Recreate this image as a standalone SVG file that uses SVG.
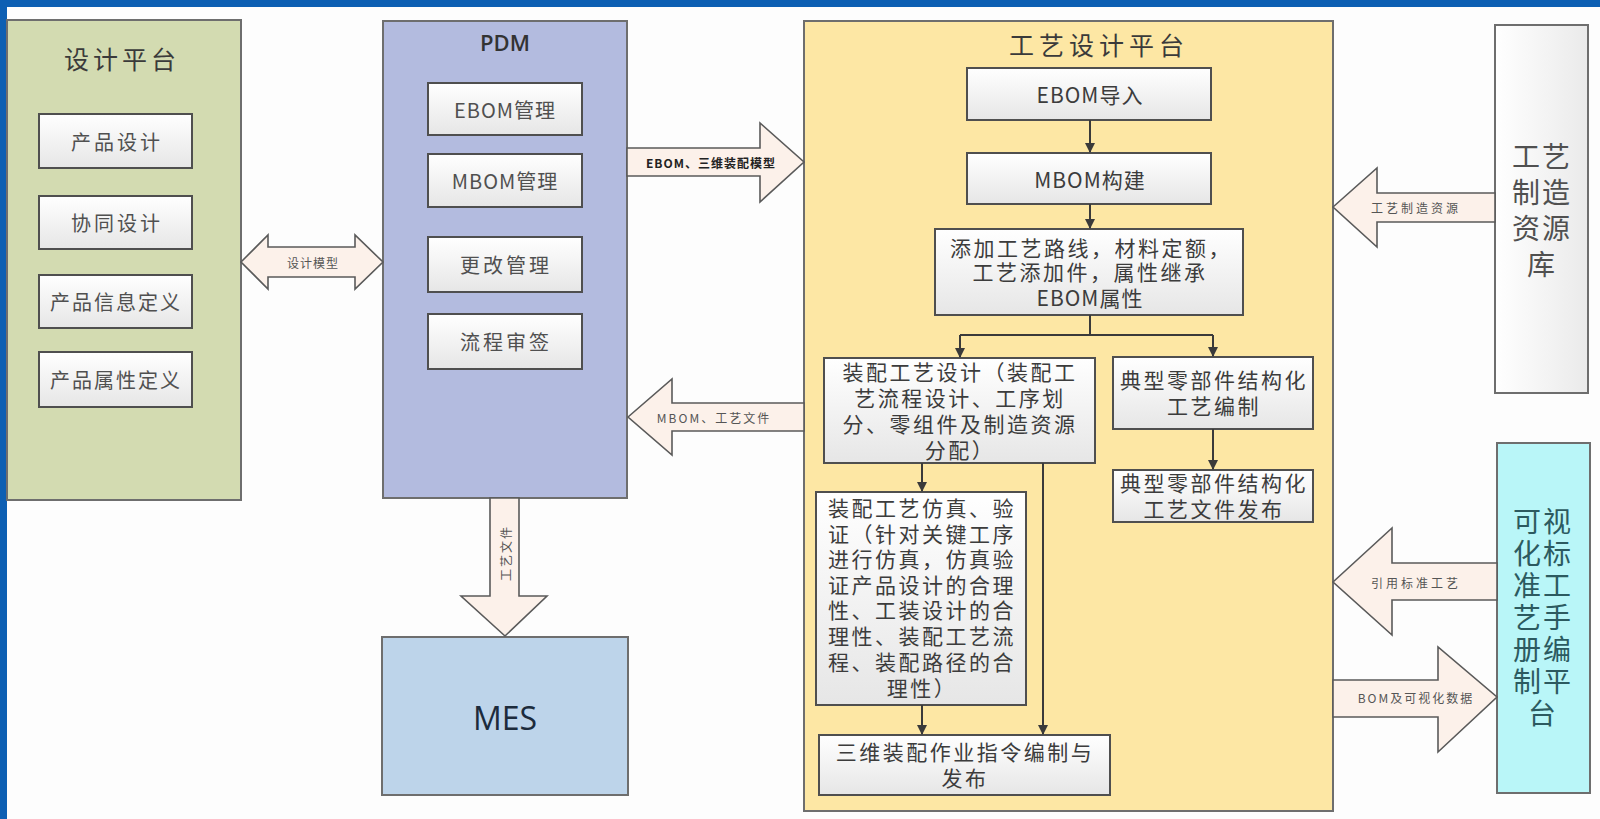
<svg xmlns="http://www.w3.org/2000/svg" width="1600" height="819" viewBox="0 0 1600 819">
<defs>
<linearGradient id="subg" x1="0" y1="0" x2="0" y2="1"><stop offset="0" stop-color="#ffffff"/><stop offset="1" stop-color="#e6e6e6"/></linearGradient>
<linearGradient id="libg" x1="0" y1="0" x2="1" y2="0"><stop offset="0" stop-color="#ffffff"/><stop offset="1" stop-color="#eaeaea"/></linearGradient>
<marker id="ah" markerWidth="10" markerHeight="10" refX="9" refY="5" orient="auto" markerUnits="userSpaceOnUse"><path d="M0,0 L10,5 L0,10 Z" fill="#3a3a3a"/></marker>
<style>
text{font-family:"Noto Sans CJK SC","Noto Sans",sans-serif;dominant-baseline:central;text-anchor:middle}
.big{stroke:#6e6e6e;stroke-width:2}
.sub{fill:url(#subg);stroke:#4f4f4f;stroke-width:2}
.fat{fill:#fcf1ea;stroke:#5a5a5a;stroke-width:1.6;stroke-linejoin:miter}
.t20{font-size:20px;fill:#505050;letter-spacing:3px}
.t22{font-size:21px;fill:#3c3c3c;letter-spacing:2.5px}
.vt{font-size:28px;letter-spacing:2px}
.lbl{font-size:12px;fill:#555;letter-spacing:3px}
.con{stroke:#3a3a3a;stroke-width:2;fill:none}
</style>
</defs>
<rect x="0" y="0" width="1600" height="819" fill="#fdfdfd"/>
<rect x="0" y="0" width="1600" height="7" fill="#0d5fb3"/>
<rect x="0" y="0" width="7" height="819" fill="#0d5fb3"/>

<g id="design-platform">
<rect class="big" x="7" y="20" width="234" height="480" fill="#d3dbb1"/>
<text x="122" y="58" style="font-size:25px;fill:#3a3a3a;letter-spacing:4px">设计平台</text>
</g>
<g id="product-design"><rect class="sub" x="39" y="114" width="153" height="54"/><text class="t20" x="117" y="141">产品设计</text></g>
<g id="collab-design"><rect class="sub" x="39" y="196" width="153" height="53"/><text class="t20" x="117" y="222">协同设计</text></g>
<g id="product-info"><rect class="sub" x="39" y="275" width="153" height="53"/><text class="t20" x="116" y="301" style="letter-spacing:2px">产品信息定义</text></g>
<g id="product-attr"><rect class="sub" x="39" y="352" width="153" height="55"/><text class="t20" x="116" y="379" style="letter-spacing:2px">产品属性定义</text></g>

<g id="pdm">
<rect class="big" x="383" y="21" width="244" height="477" fill="#b3bbdf"/>
<text x="505" y="42" style="font-size:22px;font-weight:600;fill:#333;font-family:'Open Sans',sans-serif">PDM</text>
</g>
<g id="ebom-mgmt"><rect class="sub" x="428" y="83" width="154" height="52"/><text class="t20" x="505" y="109" style="letter-spacing:1px">EBOM管理</text></g>
<g id="mbom-mgmt"><rect class="sub" x="428" y="154" width="154" height="53"/><text class="t20" x="505" y="180" style="letter-spacing:1px">MBOM管理</text></g>
<g id="change-mgmt"><rect class="sub" x="428" y="237" width="154" height="55"/><text class="t20" x="506" y="264">更改管理</text></g>
<g id="flow-approve"><rect class="sub" x="428" y="314" width="154" height="55"/><text class="t20" x="506" y="341">流程审签</text></g>

<g id="mes">
<rect class="big" x="382" y="637" width="246" height="158" fill="#bdd4ea"/>
<text x="505" y="717" style="font-size:32px;fill:#1c2b3c;font-family:'Open Sans',sans-serif">MES</text>
</g>

<g id="process-platform">
<rect class="big" x="804" y="21" width="529" height="790" fill="#fde7a4"/>
<text x="1099" y="44" style="font-size:25px;fill:#3a3a3a;letter-spacing:5px">工艺设计平台</text>
</g>
<g id="ebom-import"><rect class="sub" x="967" y="68" width="244" height="52"/><text class="t22" x="1090" y="94" style="letter-spacing:1px">EBOM导入</text></g>
<g id="mbom-build"><rect class="sub" x="967" y="153" width="244" height="51"/><text class="t22" x="1090" y="179" style="letter-spacing:1px">MBOM构建</text></g>
<g id="add-route"><rect class="sub" x="935" y="229" width="308" height="86"/>
<text class="t22"><tspan x="1091" y="247">添加工艺路线，材料定额，</tspan><tspan x="1090" y="271">工艺添加件，属性继承</tspan><tspan x="1090" y="297" style="letter-spacing:1px">EBOM属性</tspan></text></g>
<g id="assembly-design"><rect class="sub" x="824" y="358" width="271" height="105"/>
<text class="t22"><tspan x="960" y="371">装配工艺设计（装配工</tspan><tspan x="960" y="397">艺流程设计、工序划</tspan><tspan x="960" y="423">分、零组件及制造资源</tspan><tspan x="960" y="449">分配）</tspan></text></g>
<g id="typical-compile"><rect class="sub" x="1113" y="357" width="200" height="72"/>
<text class="t22"><tspan x="1214" y="379">典型零部件结构化</tspan><tspan x="1214" y="405">工艺编制</tspan></text></g>
<g id="typical-release"><rect class="sub" x="1113" y="470" width="200" height="52"/>
<text class="t22"><tspan x="1214" y="482">典型零部件结构化</tspan><tspan x="1214" y="508">工艺文件发布</tspan></text></g>
<g id="assembly-sim"><rect class="sub" x="816" y="492" width="210" height="213"/>
<text class="t22"><tspan x="922" y="507">装配工艺仿真、验</tspan><tspan x="922" y="533">证（针对关键工序</tspan><tspan x="922" y="558">进行仿真，仿真验</tspan><tspan x="922" y="584">证产品设计的合理</tspan><tspan x="922" y="609">性、工装设计的合</tspan><tspan x="922" y="635">理性、装配工艺流</tspan><tspan x="922" y="661">程、装配路径的合</tspan><tspan x="922" y="687">理性）</tspan></text></g>
<g id="assembly-3d"><rect class="sub" x="819" y="735" width="291" height="60"/>
<text class="t22"><tspan x="965" y="751">三维装配作业指令编制与</tspan><tspan x="965" y="777">发布</tspan></text></g>

<g id="resource-lib">
<rect x="1495" y="25" width="93" height="368" fill="url(#libg)" stroke="#6e6e6e" stroke-width="2"/>
<text class="vt" style="fill:#505050"><tspan x="1542" y="155">工艺</tspan><tspan x="1542" y="191">制造</tspan><tspan x="1542" y="227">资源</tspan><tspan x="1541" y="263" style="letter-spacing:0">库</tspan></text>
</g>
<g id="visual-platform">
<rect x="1497" y="443" width="93" height="350" fill="#b9f6f8" stroke="#6e6e6e" stroke-width="2"/>
<text class="vt" style="fill:#2c5a60"><tspan x="1543" y="520">可视</tspan><tspan x="1543" y="552">化标</tspan><tspan x="1543" y="584">准工</tspan><tspan x="1543" y="616">艺手</tspan><tspan x="1543" y="648">册编</tspan><tspan x="1543" y="680">制平</tspan><tspan x="1542" y="712" style="letter-spacing:0">台</tspan></text>
</g>

<g id="connectors">
<polygon class="fat" points="241,262 268,235 268,247 355,247 355,235 383,262 355,289 355,277 268,277 268,289"/>
<text class="lbl" x="313" y="262" style="letter-spacing:1px">设计模型</text>
<polygon class="fat" points="627,148 760,148 760,123 804,162 760,202 760,176 627,176"/>
<text class="lbl" x="711" y="162" style="font-weight:bold;fill:#222;letter-spacing:1px">EBOM、三维装配模型</text>
<polygon class="fat" points="628,417 672,379 672,403 804,403 804,431 672,431 672,455"/>
<text class="lbl" x="714" y="417" style="letter-spacing:2px">MBOM、工艺文件</text>
<polygon class="fat" points="490,498 519,498 519,596 547,596 505,636 461,596 490,596"/>
<text class="lbl" x="0" y="0" transform="translate(505,553) rotate(-90)" style="letter-spacing:2px">工艺文件</text>
<polygon class="fat" points="1333,207 1377,168 1377,193 1495,193 1495,222 1377,222 1377,247"/>
<text class="lbl" x="1416" y="207">工艺制造资源</text>
<polygon class="fat" points="1333,582 1392,528 1392,563 1497,563 1497,600 1392,600 1392,635"/>
<text class="lbl" x="1416" y="582">引用标准工艺</text>
<polygon class="fat" points="1333,680 1438,680 1438,647 1497,697 1438,752 1438,717 1333,717"/>
<text class="lbl" x="1416" y="697" style="letter-spacing:2px">BOM及可视化数据</text>

<line class="con" x1="1090" y1="120" x2="1090" y2="152" marker-end="url(#ah)"/>
<line class="con" x1="1090" y1="204" x2="1090" y2="228" marker-end="url(#ah)"/>
<polyline class="con" points="1090,315 1090,335"/>
<polyline class="con" points="960,335 1213,335"/>
<line class="con" x1="960" y1="335" x2="960" y2="357" marker-end="url(#ah)"/>
<line class="con" x1="1213" y1="335" x2="1213" y2="356" marker-end="url(#ah)"/>
<line class="con" x1="1213" y1="429" x2="1213" y2="469" marker-end="url(#ah)"/>
<line class="con" x1="922" y1="463" x2="922" y2="491" marker-end="url(#ah)"/>
<line class="con" x1="922" y1="705" x2="922" y2="734" marker-end="url(#ah)"/>
<line class="con" x1="1043" y1="463" x2="1043" y2="734" marker-end="url(#ah)"/>
</g>
</svg>
